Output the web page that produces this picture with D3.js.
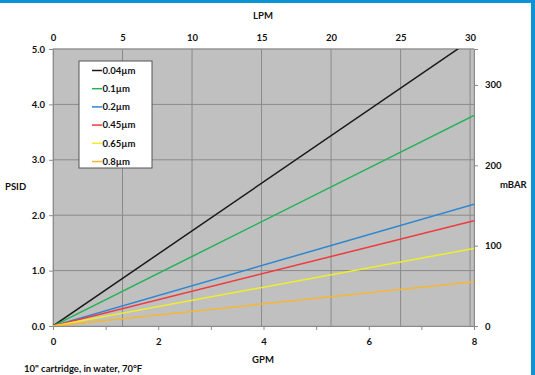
<!DOCTYPE html>
<html>
<head>
<meta charset="utf-8">
<script src="https://cdn.jsdelivr.net/npm/d3@7"></script>
<style>
  body { margin: 0; background: #fff; }
  svg { display: block; }
  text { font-family: Lato, 'Open Sans', sans-serif; font-weight: bold; font-size: 9.5px; fill: #111; }
</style>
</head>
<body>
<script>
// flow in GPM, pressure drop in PSID (straight lines from the origin)
const gpmPoints = [0, 8]
const seriesNames = ['0.04µm', '0.1µm', '0.2µm', '0.45µm', '0.65µm', '0.8µm']
const seriesPsidAt8 = [5.2, 3.8, 2.2, 1.9, 1.4, 0.8]
const seriesColors = ['#1a1a1a', '#22b356', '#2e86d1', '#ee3a3d', '#f0ee2a', '#f5b731']

const gpmTicks = [0, 1, 2, 3, 4, 5, 6, 7, 8]
const gpmLabels = [0, 2, 4, 6, 8]
const lpmTicks = [0, 5, 10, 15, 20, 25, 30]
const psidTicks = [0, 1, 2, 3, 4, 5]
const mbarTicks = [0, 100, 200, 300]
const caption = '10" cartridge, in water, 70°F'

const LPM_PER_GPM = 3.785
const MBAR_PER_PSI = 68.948

const width = 535
const height = 375
const plot = { left: 53, right: 474, top: 49, bottom: 326 }

const x = d3.scaleLinear().domain([0, 8]).range([plot.left, plot.right])
const xLpm = d3.scaleLinear().domain([0, 8 * LPM_PER_GPM]).range([plot.left, plot.right])
const y = d3.scaleLinear().domain([0, 5]).range([plot.bottom, plot.top])
const yMbar = d3.scaleLinear().domain([0, 5 * MBAR_PER_PSI]).range([plot.bottom, plot.top])

const svg = d3.select('body').append('svg')
  .attr('width', width)
  .attr('height', height)

// blue frame of the page the chart was cut out of
svg.append('rect').attr('x', 0).attr('y', 0).attr('width', width).attr('height', 3).attr('fill', '#0b93d5')
svg.append('rect').attr('x', 531).attr('y', 0).attr('width', 4).attr('height', height).attr('fill', '#0b93d5')

svg.append('defs').append('clipPath').attr('id', 'plotClip')
  .append('rect')
  .attr('x', plot.left).attr('y', plot.top)
  .attr('width', plot.right - plot.left).attr('height', plot.bottom - plot.top)

// plot background
svg.append('rect')
  .attr('x', plot.left).attr('y', plot.top)
  .attr('width', plot.right - plot.left).attr('height', plot.bottom - plot.top)
  .attr('fill', '#c0c0c0')
  .attr('stroke', '#a8a8a8')

// grid: horizontal at PSID, vertical at LPM
svg.append('g').selectAll('line')
  .data(psidTicks.slice(1))
  .enter().append('line')
  .attr('x1', plot.left).attr('x2', plot.right)
  .attr('y1', d => y(d)).attr('y2', d => y(d))
  .attr('stroke', '#8a8a8a')
  .attr('stroke-width', 1)

svg.append('g').selectAll('line')
  .data(lpmTicks.slice(1))
  .enter().append('line')
  .attr('x1', d => xLpm(d)).attr('x2', d => xLpm(d))
  .attr('y1', plot.top).attr('y2', plot.bottom)
  .attr('stroke', '#8a8a8a')
  .attr('stroke-width', 1)

// axes
const bottomAxis = svg.append('g')
  .attr('transform', 'translate(0,' + plot.bottom + ')')
  .call(d3.axisBottom(x).tickValues(gpmTicks).tickSize(4).tickFormat(d => gpmLabels.includes(d) ? d : ''))
const topAxis = svg.append('g')
  .attr('transform', 'translate(0,' + plot.top + ')')
  .call(d3.axisTop(xLpm).tickValues(lpmTicks).tickSize(0).tickPadding(8))
const leftAxis = svg.append('g')
  .attr('transform', 'translate(' + plot.left + ',0)')
  .call(d3.axisLeft(y).tickValues(psidTicks).tickSize(4).tickPadding(4).tickFormat(d3.format('.1f')))
const rightAxis = svg.append('g')
  .attr('transform', 'translate(' + plot.right + ',0)')
  .call(d3.axisRight(yMbar).tickValues(mbarTicks).tickSize(4).tickPadding(7))

for (const axis of [bottomAxis, topAxis, leftAxis, rightAxis]) {
  axis.select('.domain').attr('stroke', '#8a8a8a')
  axis.selectAll('.tick line').attr('stroke', '#8a8a8a')
  axis.selectAll('text').attr('font-family', null).attr('font-size', null).attr('fill', '#111')
}
bottomAxis.selectAll('text').attr('dy', '1.25em')
topAxis.select('.domain').remove()

// series
const line = d3.line()
  .x(d => x(d[0]))
  .y(d => y(d[1]))

svg.append('g').attr('clip-path', 'url(#plotClip)')
  .selectAll('path')
  .data(seriesNames.map((name, i) => ({
    name,
    color: seriesColors[i],
    points: gpmPoints.map(g => [g, seriesPsidAt8[i] * g / 8])
  })))
  .enter().append('path')
  .attr('d', d => line(d.points))
  .attr('fill', 'none')
  .attr('stroke', d => d.color)
  .attr('stroke-width', 1.5)

// legend
const legend = svg.append('g').attr('transform', 'translate(79,61)')
legend.append('rect')
  .attr('width', 73).attr('height', 107)
  .attr('fill', '#fff')
  .attr('stroke', '#555')
  .attr('stroke-width', 1)
const item = legend.selectAll('g.item')
  .data(seriesNames)
  .enter().append('g')
  .attr('class', 'item')
  .attr('transform', (d, i) => 'translate(0,' + (9.5 + i * 18.2) + ')')
item.append('line')
  .attr('x1', 13).attr('x2', 23)
  .attr('stroke', (d, i) => seriesColors[i])
  .attr('stroke-width', 1.5)
item.append('text')
  .attr('x', 23.5).attr('dy', '0.35em')
  .text(d => d)

// titles
svg.append('text').attr('x', 263).attr('y', 19).attr('text-anchor', 'middle').text('LPM')
svg.append('text').attr('x', 263).attr('y', 363).attr('text-anchor', 'middle').text('GPM')
svg.append('text').attr('x', 5).attr('y', 190).text('PSID')
svg.append('text').attr('x', 500).attr('y', 188).text('mBAR')
svg.append('text').attr('x', 24).attr('y', 372).text(caption)
</script>
</body>
</html>
